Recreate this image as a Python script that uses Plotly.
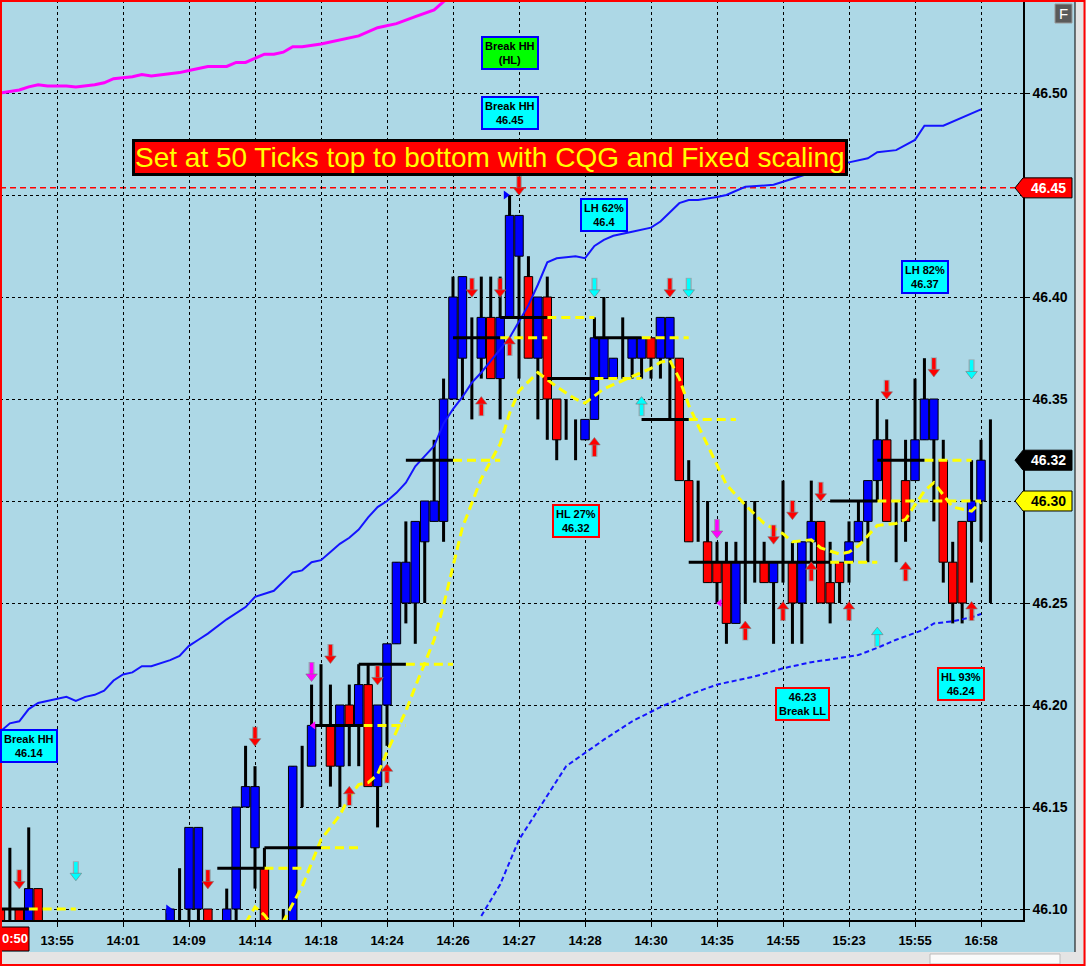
import plotly.graph_objects as go

# ------------------------------------------------------------------ data
time_labels = ["13:55", "14:01", "14:09", "14:14", "14:18", "14:24", "14:26",
               "14:27", "14:28", "14:30", "14:35", "14:55", "15:23", "15:55", "16:58"]
bars_per_label = 7
price_ticks = [46.10, 46.15, 46.20, 46.25, 46.30, 46.35, 46.40, 46.45, 46.50]

N = None
bar_index = list(range(-6, 100))
bar_open = ([46.10, N, 46.10, 46.08, 46.11, N] + [N] * 12 +
            [46.08, N, 46.10, 46.10, 46.10, N, 46.08, 46.10, 46.15, 46.13] +
            [46.12, N, N, 46.08, N, 46.17, N, 46.19, 46.17, 46.20] +
            [46.19, 46.21, 46.16, 46.20, 46.23, 46.25, 46.25, 46.28, 46.29, 46.29] +
            [46.35, 46.37, N, 46.37, 46.39, 46.36, 46.39, 46.42, 46.41, 46.37] +
            [46.40, 46.35, N, N, 46.33, 46.34, 46.36, 46.36, N, 46.37] +
            [46.37, 46.38, 46.37, 46.37, 46.37, 46.31, N, 46.28, 46.27, 46.27] +
            [46.24, N, N, 46.27, 46.26, N, 46.27, 46.25, 46.28, 46.29] +
            [46.26, 46.27, 46.27, 46.28, 46.29, 46.31, 46.33, N, 46.31, 46.31] +
            [46.33, 46.33, 46.32, 46.27, 46.29, 46.29, 46.30, N])
bar_high = ([46.12, 46.13, 46.10, 46.14, 46.11, N] + [N] * 12 +
            [46.10, 46.12, 46.14, 46.14, 46.10, N, 46.11, 46.15, 46.18, 46.17] +
            [46.13, N, 46.10, 46.17, 46.18, 46.21, 46.22, 46.21, 46.20, 46.21] +
            [46.22, 46.22, 46.20, 46.23, 46.27, 46.29, 46.29, 46.30, 46.33, 46.36] +
            [46.41, 46.41, 46.39, 46.41, 46.41, 46.41, 46.45, 46.44, 46.42, 46.40] +
            [46.41, 46.35, 46.35, 46.34, 46.34, 46.39, 46.40, 46.37, 46.39, 46.38] +
            [46.38, 46.38, 46.39, 46.39, 46.37, 46.32, 46.31, 46.30, 46.28, 46.28] +
            [46.28, 46.30, 46.30, 46.28, 46.27, 46.31, 46.28, 46.28, 46.31, 46.29] +
            [46.28, 46.27, 46.29, 46.30, 46.31, 46.35, 46.34, 46.30, 46.33, 46.36] +
            [46.37, 46.35, 46.33, 46.28, 46.29, 46.32, 46.33, 46.34])
bar_low = ([46.08, 46.08, 46.08, 46.08, 46.08, N] + [N] * 12 +
           [46.08, 46.08, 46.08, 46.08, 46.08, N, 46.08, 46.08, 46.15, 46.11] +
           [46.08, N, 46.08, 46.08, 46.15, 46.17, 46.19, 46.16, 46.15, 46.17] +
           [46.17, 46.16, 46.14, 46.18, 46.23, 46.24, 46.23, 46.25, 46.29, 46.28] +
           [46.35, 46.35, 46.34, 46.36, 46.36, 46.34, 46.39, 46.36, 46.37, 46.34] +
           [46.33, 46.32, 46.33, 46.32, 46.33, 46.34, 46.36, 46.36, 46.36, 46.36] +
           [46.36, 46.36, 46.36, 46.34, 46.31, 46.28, 46.28, 46.26, 46.25, 46.23] +
           [46.24, 46.25, 46.26, 46.26, 46.23, 46.26, 46.23, 46.23, 46.27, 46.25] +
           [46.24, 46.25, 46.26, 46.28, 46.27, 46.30, 46.29, 46.27, 46.28, 46.31] +
           [46.33, 46.29, 46.26, 46.24, 46.24, 46.26, 46.28, 46.25])
bar_close = ([46.08, N, 46.08, 46.11, 46.08, N] + [N] * 12 +
             [46.10, N, 46.14, 46.14, 46.08, N, 46.10, 46.15, 46.16, 46.16] +
             [46.08, N, N, 46.17, N, 46.19, N, 46.17, 46.20, 46.19] +
             [46.21, 46.16, 46.20, 46.23, 46.27, 46.27, 46.29, 46.30, 46.30, 46.35] +
             [46.40, 46.41, N, 46.39, 46.36, 46.39, 46.44, 46.44, 46.37, 46.40] +
             [46.35, 46.33, N, N, 46.34, 46.38, 46.38, 46.37, N, 46.38] +
             [46.38, 46.37, 46.39, 46.39, 46.31, 46.28, N, 46.26, 46.26, 46.24] +
             [46.27, N, N, 46.26, 46.27, N, 46.25, 46.28, 46.29, 46.25] +
             [46.25, 46.26, 46.28, 46.29, 46.31, 46.33, 46.29, N, 46.29, 46.33] +
             [46.35, 46.35, 46.27, 46.25, 46.25, 46.30, 46.32, N])

# moving average (yellow dashed)
ma_index = [20, 21, 22, 23, 24, 26, 28, 30, 31, 32, 33, 34, 35, 37, 38, 40, 41, 42, 43, 44,
            45, 47, 48, 49, 51, 53, 55, 56, 58, 59, 61, 63, 64, 65, 66, 67, 68, 70, 71, 73,
            75, 77, 78, 80, 81, 83, 84, 85, 87, 89, 90, 92, 93, 94, 95, 97, 98]
ma_value = [46.093, 46.101, 46.097, 46.091, 46.094, 46.111, 46.134, 46.146, 46.155, 46.161,
            46.162, 46.166, 46.177, 46.197, 46.209, 46.232, 46.249, 46.268, 46.287, 46.299,
            46.311, 46.328, 46.343, 46.354, 46.363, 46.356, 46.350, 46.348, 46.355, 46.357,
            46.361, 46.365, 46.368, 46.369, 46.360, 46.347, 46.337, 46.318, 46.308, 46.298,
            46.289, 46.284, 46.280, 46.281, 46.277, 46.274, 46.275, 46.278, 46.288, 46.289,
            46.291, 46.305, 46.309, 46.303, 46.297, 46.295, 46.2995]

# upper band (blue solid)
upper_index = [-6, -5, -4, -3, -2, 0, 1, 2, 3, 4, 5, 6, 7, 8, 9, 10, 12, 13, 14, 15, 16, 18,
               20, 21, 23, 25, 26, 27, 28, 29, 30, 31, 32, 33, 34, 35, 36, 37, 38, 39, 40,
               41, 42, 43, 44, 45, 47, 48, 49, 50, 51, 52, 53, 55, 56, 57, 58, 59, 61, 63,
               64, 66, 67, 68, 70, 71, 73, 76, 78, 80, 82, 84, 86, 87, 89, 91, 92, 94, 96, 98]
upper_value = [46.187, 46.191, 46.192, 46.198, 46.201, 46.203, 46.204, 46.202, 46.204, 46.205,
               46.207, 46.212, 46.215, 46.216, 46.219, 46.219, 46.222, 46.224, 46.229, 46.232,
               46.235, 46.242, 46.248, 46.253, 46.256, 46.265, 46.266, 46.270, 46.271, 46.275,
               46.279, 46.282, 46.286, 46.292, 46.297, 46.300, 46.304, 46.309, 46.317, 46.322,
               46.327, 46.338, 46.345, 46.351, 46.358, 46.363, 46.374, 46.380, 46.388, 46.396,
               46.406, 46.417, 46.419, 46.420, 46.419, 46.425, 46.428, 46.430, 46.432, 46.434,
               46.437, 46.446, 46.4475, 46.4475, 46.449, 46.450, 46.454, 46.455, 46.458, 46.461,
               46.464, 46.466, 46.468, 46.471, 46.472, 46.477, 46.484, 46.484, 46.488, 46.492]

# outer band (magenta)
outer_index = [-6, -4, -3, -2, -1, 1, 2, 4, 5, 6, 8, 9, 10, 13, 14, 16, 18, 19, 20, 22, 23,
               24, 25, 26, 28, 30, 32, 34, 36, 38, 40, 41, 42, 44]
outer_value = [46.500, 46.5015, 46.503, 46.504, 46.5034, 46.5034, 46.503, 46.504, 46.505,
               46.507, 46.508, 46.509, 46.5083, 46.510, 46.511, 46.513, 46.513, 46.515,
               46.515, 46.519, 46.519, 46.520, 46.5227, 46.5227, 46.524, 46.526, 46.528,
               46.532, 46.534, 46.5374, 46.5407, 46.5448, 46.548, 46.555]

# lower band (blue dashed)
lower_index = [45, 47, 49, 52, 54, 58, 61, 64, 67, 70, 74, 77, 80, 83, 85, 87, 89, 92, 93,
               95, 97, 98]
lower_value = [46.0966, 46.112, 46.134, 46.156, 46.170, 46.183, 46.192, 46.199, 46.205,
               46.210, 46.214, 46.218, 46.221, 46.223, 46.2245, 46.228, 46.232, 46.237,
               46.240, 46.241, 46.243, 46.2446]

# pivot levels (black) with projections (yellow dashed)
pivot_level = [46.10, 46.12, 46.13, 46.19, 46.22, 46.32, 46.38, 46.39, 46.36, 46.38, 46.34,
               46.27, 46.30, 46.32]
pivot_start = [-6, 17, 22, 27, 32, 37, 42, 47, 52, 57, 62, 67, 82, 87]
pivot_end = [-3, 22, 28, 32.5, 37, 42, 47, 52, 57, 62, 67, 82, 87, 92]
pivot_proj_end = [2, 26, 32, 37, 42, 47, 52, 57, 62, 67, 72, 87, 98, 97]

# signal arrows (bar index, price)
red_down_idx = [-4, 16, 21, 29, 34, 44, 47, 49, 65, 76, 78, 81, 88, 93]
red_down_px = [46.114, 46.114, 46.184, 46.2245, 46.214, 46.404, 46.404, 46.454, 46.404,
               46.283, 46.295, 46.304, 46.354, 46.365]
cyan_down_idx = [2, 57, 67, 97]
cyan_down_px = [46.118, 46.404, 46.404, 46.364]
magenta_down_idx = [27, 70]
magenta_down_px = [46.2157, 46.2858]
red_up_idx = [31, 35, 45, 48, 57, 73, 77, 80, 84, 90, 97]
red_up_px = [46.156, 46.167, 46.347, 46.3765, 46.327, 46.237, 46.2466, 46.266, 46.2466,
             46.266, 46.2466]
cyan_up_idx = [62, 87]
cyan_up_px = [46.347, 46.234]
flag_idx = [11.8, 47.6]
flag_px = [46.10, 46.45]
mark_left_idx = [27.2, 70.3]
mark_left_px = [46.19, 46.25]

alert_price = 46.4535
last_price = 46.32
ref_price = 46.30
alert_label, last_label, ref_label = "46.45", "46.32", "46.30"
time_tag_label = "0:50"

# ------------------------------------------------------------------ geometry
FONT = "Arial, Liberation Sans, sans-serif"
W, H = 1086, 966
MR, MB = 63, 46
PW, PH = W - MR, H - MB
BAR_PX = 66 / 7.0
X0_PX = 57
PPU = 2040.0
Y_TOP = 46.50 + 93 / PPU
Y_BOT = Y_TOP - PH / PPU
x_range = [-X0_PX / BAR_PX, (PW - X0_PX) / BAR_PX]


def pxx(px):
    return px / PW


def pxy(py):
    return (PH - py) / PH


def price_to_py(p):
    return (Y_TOP - p) * PPU


BLUE, RED, BLACK = "#0000FF", "#FF0000", "#000000"
CYAN, YELLOW, MAGENTA = "#00FFFF", "#FFFF00", "#FF00FF"
BG = "#ADD8E6"

fig = go.Figure()

# ------------------------------------------------------------------ candles
wx, wb, wl = [], [], []
ux, ub, ul = [], [], []
dx, db, dl = [], [], []
for i, n in enumerate(bar_index):
    h, l, o, c = bar_high[i], bar_low[i], bar_open[i], bar_close[i]
    if h is not None and l is not None:
        wx.append(n); wb.append(l); wl.append(h - l)
    if o is not None and c is not None and o != c:
        if c > o:
            ux.append(n); ub.append(o); ul.append(c - o)
        else:
            dx.append(n); db.append(c); dl.append(o - c)

fig.add_trace(go.Bar(x=wx, y=wl, base=wb, width=0.32, marker=dict(color=BLACK, line=dict(width=0)),
                     hoverinfo="skip"))
fig.add_trace(go.Bar(x=ux, y=ul, base=ub, width=0.9,
                     marker=dict(color=BLUE, line=dict(color=BLACK, width=1)), hoverinfo="skip"))
fig.add_trace(go.Bar(x=dx, y=dl, base=db, width=0.9,
                     marker=dict(color=RED, line=dict(color=BLACK, width=1)), hoverinfo="skip"))

# ------------------------------------------------------------------ bands / MA
fig.add_trace(go.Scatter(x=outer_index, y=outer_value, mode="lines",
                         line=dict(color=MAGENTA, width=3), hoverinfo="skip"))
fig.add_trace(go.Scatter(x=upper_index, y=upper_value, mode="lines",
                         line=dict(color="#1414FF", width=2), hoverinfo="skip"))
fig.add_trace(go.Scatter(x=lower_index, y=lower_value, mode="lines",
                         line=dict(color="#1414FF", width=2, dash="5px,3px"), hoverinfo="skip"))
fig.add_trace(go.Scatter(x=ma_index, y=ma_value, mode="lines",
                         line=dict(color=YELLOW, width=3, dash="9px,5px"), hoverinfo="skip"))

# pivots
bx, by, yx, yy = [], [], [], []
for lev, s, e, pe in zip(pivot_level, pivot_start, pivot_end, pivot_proj_end):
    bx += [s, e, None]; by += [lev, lev, None]
    yx += [e, pe, None]; yy += [lev, lev, None]
fig.add_trace(go.Scatter(x=yx, y=yy, mode="lines", line=dict(color=YELLOW, width=3, dash="9px,5px"),
                         hoverinfo="skip"))
fig.add_trace(go.Scatter(x=bx, y=by, mode="lines", line=dict(color=BLACK, width=3), hoverinfo="skip"))


# ------------------------------------------------------------------ arrows
def add_arrows(idx, px, color, up):
    s = 1 if up else -1
    shaft_y = [p - s * 4.0 / PPU for p in px]
    head_y = [p + s * 3.5 / PPU for p in px]
    fig.add_trace(go.Scatter(x=idx, y=shaft_y, mode="markers", hoverinfo="skip",
                             marker=dict(symbol="line-ns", size=10,
                                         line=dict(color="rgba(130,130,130,0.55)", width=6))))
    fig.add_trace(go.Scatter(x=idx, y=shaft_y, mode="markers", hoverinfo="skip",
                             marker=dict(symbol="line-ns", size=9, line=dict(color=color, width=3.5))))
    fig.add_trace(go.Scatter(x=idx, y=head_y, mode="markers", hoverinfo="skip",
                             marker=dict(symbol="triangle-up" if up else "triangle-down", size=10,
                                         color=color,
                                         line=dict(color="rgba(120,120,120,0.6)", width=1))))


add_arrows(red_down_idx, red_down_px, RED, False)
add_arrows(cyan_down_idx, cyan_down_px, CYAN, False)
add_arrows(magenta_down_idx, magenta_down_px, MAGENTA, False)
add_arrows(red_up_idx, red_up_px, RED, True)
add_arrows(cyan_up_idx, cyan_up_px, CYAN, True)
fig.add_trace(go.Scatter(x=flag_idx, y=flag_px, mode="markers", hoverinfo="skip",
                         marker=dict(symbol="triangle-right", size=8, color=BLUE)))
fig.add_trace(go.Scatter(x=mark_left_idx, y=mark_left_px, mode="markers", hoverinfo="skip",
                         marker=dict(symbol="triangle-left", size=7, color=MAGENTA)))

# ------------------------------------------------------------------ shapes
shapes = []
shapes.append(dict(type="line", xref="paper", yref="y", x0=0, x1=1, y0=alert_price, y1=alert_price,
                   line=dict(color=RED, width=1.5, dash="6px,4px"), layer="below"))
shapes.append(dict(type="rect", xref="paper", yref="paper", x0=pxx(1075), x1=pxx(1086),
                   y0=pxy(952), y1=pxy(0), fillcolor="#E4E4E4", line=dict(width=0)))
shapes.append(dict(type="line", xref="paper", yref="paper", x0=pxx(1075), x1=pxx(1075),
                   y0=pxy(952), y1=pxy(0), line=dict(color=BLACK, width=1)))
shapes.append(dict(type="rect", xref="paper", yref="paper", x0=pxx(0), x1=pxx(1086),
                   y0=pxy(966), y1=pxy(952), fillcolor="#E4E4E4", line=dict(width=0)))
shapes.append(dict(type="rect", xref="paper", yref="paper", x0=pxx(930), x1=pxx(1060),
                   y0=pxy(964), y1=pxy(954), fillcolor="#FAFAFA", line=dict(color="#BBBBBB", width=1)))
shapes.append(dict(type="rect", xref="paper", yref="paper", x0=pxx(1055), x1=pxx(1072),
                   y0=pxy(23), y1=pxy(4), fillcolor="#5A5A5A", line=dict(color="#999999", width=1)))
shapes.append(dict(type="rect", xref="paper", yref="paper", x0=pxx(0), x1=pxx(29),
                   y0=pxy(951), y1=pxy(927), fillcolor=RED, line=dict(color=BLACK, width=1)))


def tag_path(price, left, tip, right, half):
    yc = price_to_py(price)
    pts = [(left, yc), (tip, yc - half), (right, yc - half), (right, yc + half), (tip, yc + half)]
    return "M " + " L ".join("%.5f,%.5f" % (pxx(a), pxy(b)) for a, b in pts) + " Z"


for price, fill in [(alert_price, RED), (last_price, BLACK), (ref_price, YELLOW)]:
    shapes.append(dict(type="path", xref="paper", yref="paper", path=tag_path(price, 1015, 1023, 1072, 10),
                       fillcolor=fill, line=dict(color=BLACK, width=1)))
shapes.append(dict(type="rect", xref="paper", yref="paper", x0=pxx(1), x1=pxx(1084.5),
                   y0=pxy(965), y1=pxy(1), line=dict(color=RED, width=2)))

# ------------------------------------------------------------------ annotations
annotations = []
label_boxes = [
    ("Break HH<br>(HL)", 48.0, 46.5196, "#00FF00", BLUE),
    ("Break HH<br>46.45", 48.0, 46.4902, CYAN, BLUE),
    ("LH 62%<br>46.4", 58.06, 46.440, CYAN, BLUE),
    ("LH 82%<br>46.37", 92.1, 46.4098, CYAN, BLUE),
    ("HL 27%<br>46.32", 55.04, 46.2902, CYAN, RED),
    ("46.23<br>Break LL", 79.05, 46.2005, CYAN, RED),
    ("HL 93%<br>46.24", 95.9, 46.2103, CYAN, RED),
    ("Break HH<br>46.14", -3.02, 46.1797, CYAN, BLUE),
]
for txt, xv, yv, bg, bd in label_boxes:
    annotations.append(dict(x=xv, y=yv, xref="x", yref="y",
                            text="<b>" + txt.replace("<br>", "</b><br><b>") + "</b>",
                            showarrow=False, font=dict(family=FONT, size=11, color=BLACK),
                            xanchor="center", yanchor="middle",
                            bgcolor=bg, bordercolor=bd, borderwidth=2, borderpad=2, align="center"))
annotations.append(dict(x=45.9, y=46.4686, xref="x", yref="y", xanchor="center", yanchor="middle",
                        text="Set at 50 Ticks top to bottom with CQG and Fixed scaling",
                        showarrow=False, font=dict(family=FONT, size=28, color=YELLOW),
                        bgcolor=RED, bordercolor=BLACK, borderwidth=3, borderpad=0))
for price, txt, col in [(alert_price, alert_label, "white"), (last_price, last_label, "white"),
                        (ref_price, ref_label, BLACK)]:
    annotations.append(dict(x=pxx(1048), y=pxy(price_to_py(price)), xref="paper", yref="paper",
                            xanchor="center", yanchor="middle",
                            text="<b>%s</b>" % txt, showarrow=False,
                            font=dict(family=FONT, size=14, color=col)))
annotations.append(dict(x=pxx(1063.5), y=pxy(13.5), xref="paper", yref="paper", text="F",
                        xanchor="center", yanchor="middle",
                        showarrow=False, font=dict(family=FONT, size=15, color="white")))
annotations.append(dict(x=pxx(14.5), y=pxy(939), xref="paper", yref="paper",
                        text="<b>%s</b>" % time_tag_label,
                        xanchor="center", yanchor="middle", showarrow=False,
                        font=dict(family=FONT, size=13, color="white")))

# tick labels hidden under the price tags
covered = {alert_label, ref_label}
y_ticktext = ["" if ("%.2f" % v) in covered else "<b>%.2f</b>" % v for v in price_ticks]

# ------------------------------------------------------------------ layout
fig.update_layout(
    width=W, height=H, margin=dict(l=0, r=MR, t=0, b=MB, pad=0),
    paper_bgcolor=BG, plot_bgcolor=BG, showlegend=False, barmode="overlay",
    shapes=shapes, annotations=annotations, hovermode=False,
    xaxis=dict(range=x_range, tickmode="array",
               tickvals=[k * bars_per_label for k in range(len(time_labels))],
               ticktext=["<b>%s</b>" % t for t in time_labels],
               tickfont=dict(family=FONT, size=13, color=BLACK), ticklabelstandoff=3,
               showgrid=True, gridcolor=BLACK, gridwidth=1, griddash="3px,3px",
               ticks="outside", ticklen=5, tickcolor=BLACK, showline=True, linecolor=BLACK,
               linewidth=1.5, zeroline=False, fixedrange=True),
    yaxis=dict(range=[Y_BOT, Y_TOP], side="right", tickmode="array", tickvals=price_ticks,
               ticktext=y_ticktext,
               tickfont=dict(family=FONT, size=14, color=BLACK),
               showgrid=True, gridcolor=BLACK, gridwidth=1, griddash="3px,3px",
               ticks="outside", ticklen=5, tickcolor=BLACK, showline=True, linecolor=BLACK,
               linewidth=1.5, zeroline=False, fixedrange=True),
)

fig.write_html("out.html", config={"displayModeBar": False},
               post_script="document.body.style.margin='0';document.body.style.overflow='hidden';")
